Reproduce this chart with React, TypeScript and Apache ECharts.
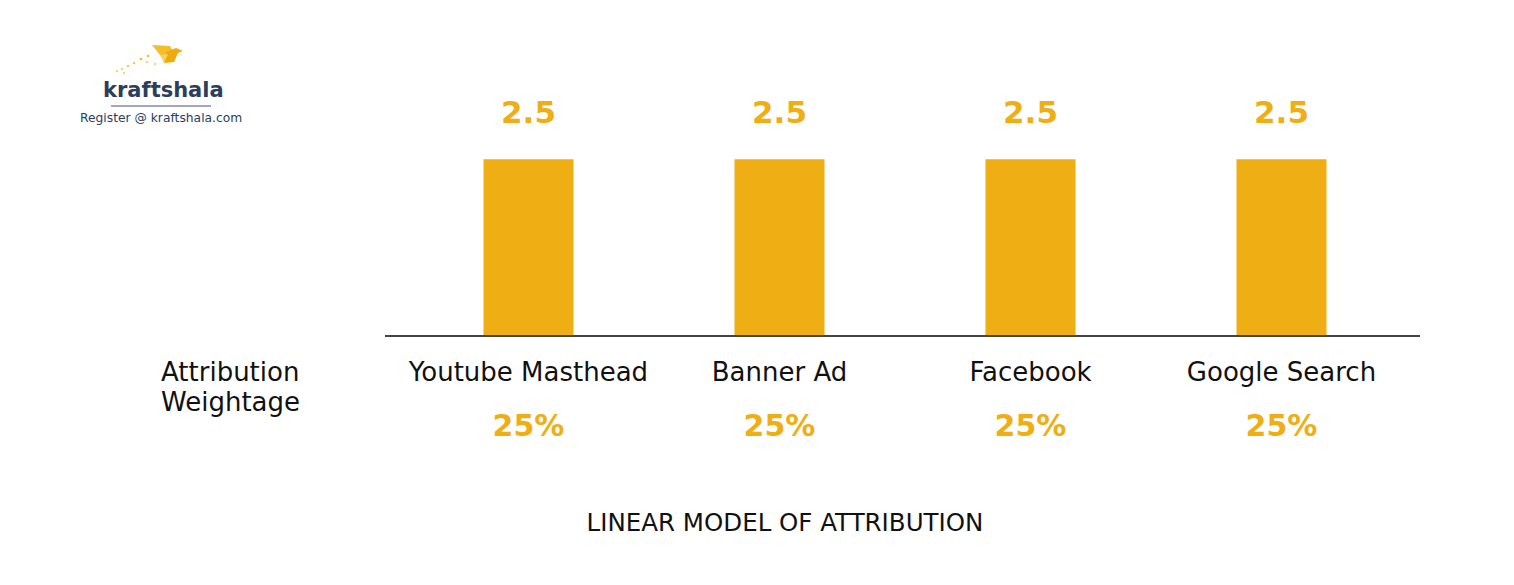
import React, { useEffect, useRef } from "react";
import * as echarts from "echarts";

const categories = ["Youtube Masthead", "Banner Ad", "Facebook", "Google Search"];
const barValues = [2.5, 2.5, 2.5, 2.5];
const weightages = ["25%", "25%", "25%", "25%"];
const chartTitle = "LINEAR MODEL OF ATTRIBUTION";
const rowLabel = "Attribution\nWeightage";

const GOLD = "#F0AE15";
const FONT = "'DejaVu Sans', sans-serif";

export default function App() {
  const ref = useRef<HTMLDivElement>(null);
  useEffect(() => {
    document.body.style.margin = "0";
    const chart = echarts.init(ref.current!, null, { renderer: "svg" });
    const dots = [
      [148, 56, 2], [141, 59, 2], [134, 63, 1.5], [128, 66, 1.5], [122, 69, 1.2], [117, 71, 1.2], [147, 62, 1.2], [155, 64, 1.2], [124, 73, 1]
    ];
    chart.setOption({
      animation: false,
      backgroundColor: "#ffffff",
      textStyle: { fontFamily: FONT },
      graphic: [
        {
          type: "text",
          x: 785,
          y: 522,
          style: {
            text: chartTitle,
            fontFamily: FONT,
            fontSize: 24.5,
            fill: "#111111",
            align: "center",
            verticalAlign: "middle",
          },
        },
        { type: "line", shape: { x1: 385, y1: 336, x2: 1420, y2: 336 }, style: { stroke: "#444444", lineWidth: 2 }, z: 10 },
        {
          type: "text",
          left: 161,
          top: 357,
          style: { text: rowLabel, fontFamily: FONT, fontSize: 26, lineHeight: 30, fill: "#111111" },
        },
        // logo
        {
          type: "polygon",
          shape: { points: [[152, 45], [170, 46], [174, 53], [166, 63], [160, 55]] },
          style: { fill: "#F4BE2A" },
        },
        {
          type: "polygon",
          shape: { points: [[166, 52], [176, 48], [183, 51], [178, 53], [174, 62], [164, 63]] },
          style: { fill: "#EFAA12" },
        },
        {
          type: "polygon",
          shape: { points: [[160, 55], [168, 54], [164, 63]] },
          style: { fill: "#F8D35A" },
        },
        ...dots.map((d) => ({
          type: "circle",
          shape: { cx: d[0], cy: d[1], r: d[2] / 2 + 0.3 },
          style: { fill: "#F4BE2A" },
        })),
        {
          type: "text",
          left: 103,
          top: 79,
          style: { text: "kraftshala", fontFamily: FONT, fontSize: 21, fontWeight: "bold", fill: "#2B3E5C" },
        },
        { type: "line", shape: { x1: 111, y1: 106, x2: 211, y2: 106 }, style: { stroke: "#7F8AA0", lineWidth: 1.5 } },
        {
          type: "text",
          left: 80,
          top: 112,
          style: { text: "Register @ kraftshala.com", fontFamily: FONT, fontSize: 12.3, fill: "#2B3E5C" },
        },
      ],
      grid: { left: 403, right: 107, top: 53, bottom: 249 },
      xAxis: {
        type: "category",
        data: categories,
        axisLine: { show: false },
        axisTick: { show: false },
        axisLabel: {
          margin: 21,
          interval: 0,
          formatter: (v: string, i: number) => `{name|${v}}\n{pct|${weightages[i]}}`,
          rich: {
            name: { fontFamily: FONT, fontSize: 26, color: "#111111", lineHeight: 30 },
            pct: { fontFamily: FONT, fontSize: 30, fontWeight: "bold", color: GOLD, lineHeight: 76 },
          },
        },
      },
      yAxis: { type: "value", min: 0, max: 4, show: false, splitLine: { show: false } },
      series: [
        {
          type: "bar",
          data: barValues,
          barWidth: 90,
          itemStyle: { color: GOLD },
          label: {
            show: true,
            position: "top",
            distance: 30,
            fontFamily: FONT,
            fontSize: 31,
            fontWeight: "bold",
            color: GOLD,
            lineHeight: 34,
          },
        },
      ],
    });
    return () => chart.dispose();
  }, []);
  return <div ref={ref} style={{ width: 1514, height: 585 }} />;
}
